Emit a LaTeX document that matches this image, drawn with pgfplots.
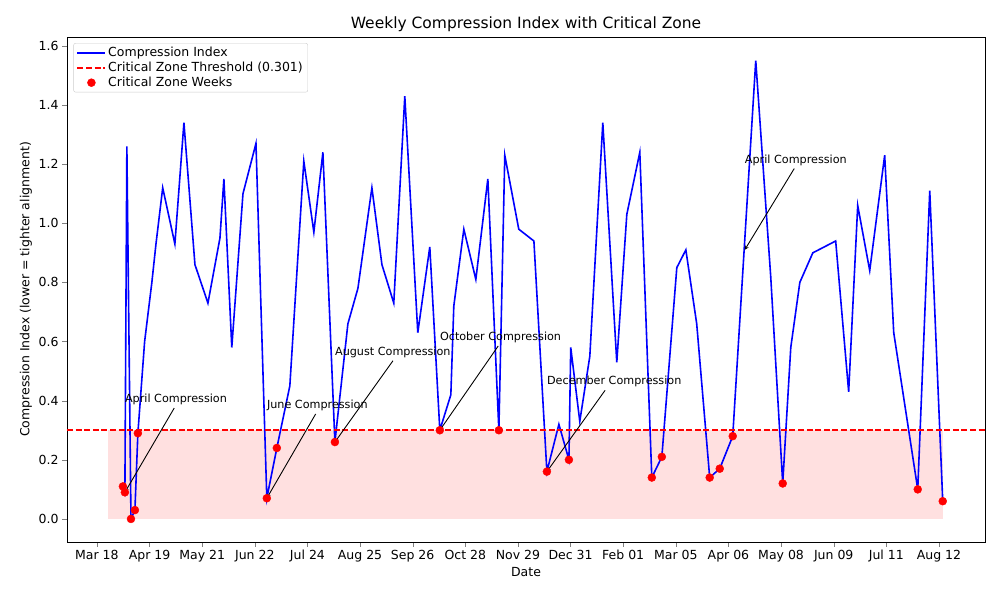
\documentclass[border=0pt]{standalone}
\usepackage{pgfplots}
\pgfplotsset{compat=1.18}
\usepackage{fontspec}
\setmainfont{DejaVu Sans}
\pgfplotsset{mylegline/.style={legend image code/.code={\draw[##1] (0bp,0bp) -- (28bp,0bp);}},
 mylegdot/.style={legend image code/.code={\fill[red] (14bp,0bp) circle (4bp);}}}
\begin{document}
\begin{tikzpicture}[font=\fontsize{12.5bp}{15bp}\selectfont]
\begin{axis}[width=918bp,height=505bp,scale only axis,
 at={(0,0)},
 xmin=-18.2,xmax=540,ymin=-0.078,ymax=1.63,
 xtick={0,32,...,512},
 xticklabels={Mar 18,Apr 19,May 21,Jun 22,Jul 24,Aug 25,Sep 26,Oct 28,Nov 29,Dec 31,Feb 01,Mar 05,Apr 06,May 08,Jun 09,Jul 11,Aug 12},
 ytick={0,0.2,...,1.6},
 yticklabel style={/pgf/number format/fixed,/pgf/number format/fixed zerofill,/pgf/number format/precision=1},
 /pgf/number format/assume math mode=true,
 tick align=outside, tick pos=left, major tick length=4.9bp,
 xlabel={Date}, ylabel={Compression Index (lower = tighter alignment)},
 xlabel style={yshift=2bp}, ylabel style={yshift=0bp},
 title={Weekly Compression Index with Critical Zone},
 title style={font=\fontsize{15.5bp}{18bp}\selectfont,yshift=-4bp},
 legend cell align=left,
 legend style={draw=black!20,rounded corners=2pt,font=\fontsize{12.5bp}{20bp}\selectfont,at={(0.007,0.988)},anchor=north west},
]
\addplot[draw=none,fill=red,fill opacity=0.12,forget plot] coordinates {(6.7,0)(6.7,0.3)(514.3,0.3)(514.3,0)} -- cycle;
\addplot[color=blue,line width=1.6bp,mylegline] coordinates {
(15.8,0.11)(17,0.09)(18.2,1.26)(20.7,0.0)(23.1,0.03)(24.9,0.29)(29,0.6)(33.4,0.8)(35.9,0.93)(40,1.12)(47.4,0.93)(52.9,1.34)(59.6,0.86)(67.5,0.73)(74.8,0.95)(77.2,1.15)(82,0.58)(88.8,1.1)(96.7,1.27)(103.3,0.07)(109.4,0.24)(117.3,0.45)(125.8,1.21)(131.9,0.97)(137.4,1.24)(144.7,0.26)(152.6,0.66)(158.7,0.78)(167.2,1.12)(173.3,0.86)(180.5,0.73)(187.2,1.43)(195.1,0.63)(202.4,0.92)(208.5,0.30)(215.2,0.42)(217,0.72)(223.1,0.98)(230.4,0.81)(237.7,1.15)(244.4,0.30)(248,1.23)(256.5,0.98)(265.7,0.94)(273.6,0.16)(280.9,0.32)(287,0.20)(288.1,0.58)(293.6,0.33)(299.7,0.55)(307.6,1.34)(316.1,0.53)(322.2,1.03)(330.1,1.24)(337.4,0.14)(343.5,0.21)(352.6,0.85)(358.1,0.91)(364.7,0.66)(372.6,0.14)(378.7,0.17)(386.6,0.28)(400.6,1.55)(409.7,0.82)(417,0.12)(421.9,0.58)(427.4,0.80)(435.3,0.90)(449.2,0.94)(457.1,0.43)(462.6,1.06)(469.9,0.84)(479,1.23)(484.5,0.63)(499.1,0.10)(506.4,1.11)(514.3,0.06)};
\addlegendentry{Compression Index}
\addplot[color=red,dash pattern=on 6bp off 2.6bp,line width=1.6bp,mylegline] coordinates {(-18.2,0.301)(540,0.301)};
\addlegendentry{Critical Zone Threshold (0.301)}
\addplot[only marks,mark=*,mark size=4bp,color=red,mark options={fill=red,draw=red},mylegdot] coordinates {
(15.8,0.11)(17,0.09)(20.7,0.0)(23.1,0.03)(24.9,0.29)(103.3,0.07)(109.4,0.24)(144.7,0.26)(208.5,0.30)(244.4,0.30)(273.6,0.16)(287,0.20)(337.4,0.14)(343.5,0.21)(372.6,0.14)(378.7,0.17)(386.6,0.28)(417,0.12)(499.1,0.10)(514.3,0.06)};
\addlegendentry{Critical Zone Weeks}
\begin{scope}[font=\fontsize{11.2bp}{13bp}\selectfont]
\node[anchor=south west,inner sep=0] at (axis cs:17,0.385) {April Compression};
\draw[-stealth,line width=0.9bp] (axis cs:47,0.375) -- (axis cs:17,0.09);
\node[anchor=south west,inner sep=0] at (axis cs:103.3,0.365) {June Compression};
\draw[-stealth,line width=0.9bp] (axis cs:133,0.355) -- (axis cs:103.3,0.07);
\node[anchor=south west,inner sep=0] at (axis cs:144.7,0.545) {August Compression};
\draw[-stealth,line width=0.9bp] (axis cs:180,0.535) -- (axis cs:144.7,0.26);
\node[anchor=south west,inner sep=0] at (axis cs:208.5,0.595) {October Compression};
\draw[-stealth,line width=0.9bp] (axis cs:244,0.585) -- (axis cs:208.5,0.30);
\node[anchor=south west,inner sep=0] at (axis cs:273.6,0.445) {December Compression};
\draw[-stealth,line width=0.9bp] (axis cs:309,0.435) -- (axis cs:273.6,0.16);
\node[anchor=south west,inner sep=0] at (axis cs:393.9,1.195) {April Compression};
\draw[-stealth,line width=0.9bp] (axis cs:424,1.185) -- (axis cs:393.9,0.91);
\end{scope}
\end{axis}
\pgfresetboundingbox
\path[use as bounding box] ([shift={(-67bp,-58bp)}]current axis.south west) rectangle ([shift={(15bp,37bp)}]current axis.north east);
\end{tikzpicture}
\end{document}
